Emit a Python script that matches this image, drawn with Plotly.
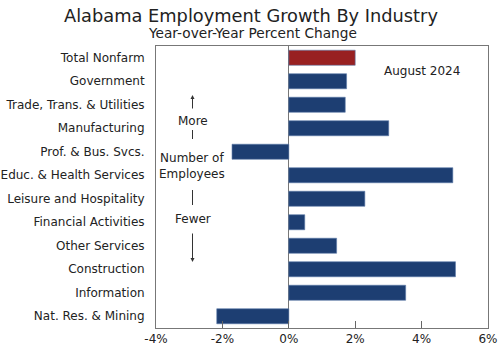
import plotly.graph_objects as go

categories = ["Total Nonfarm", "Government", "Trade, Trans. & Utilities", "Manufacturing",
              "Prof. & Bus. Svcs.", "Educ. & Health Services", "Leisure and Hospitality",
              "Financial Activities", "Other Services", "Construction", "Information",
              "Nat. Res. & Mining"]
values = [2.0, 1.74, 1.70, 3.01, -1.71, 4.94, 2.29, 0.48, 1.44, 5.02, 3.52, -2.17]
bar_colors = ["#982021"] + ["#1d3e72"] * 11
x_ticks = [-4, -2, 0, 2, 4, 6]
x_tick_labels = ["-4%", "-2%", "0%", "2%", "4%", "6%"]

FONT = "DejaVu Sans, Verdana, sans-serif"
W, H = 503, 348
L, R, T, B = 156, 15, 46, 20
pw, ph = W - L - R, H - T - B

def px(x):
    return (x - L) / pw

def py(y):
    return (H - B - y) / ph

fig = go.Figure(go.Bar(
    x=values, y=categories, orientation="h",
    marker=dict(color=bar_colors, line=dict(color="#5a78a8", width=0.6)),
    width=0.64,
))

fig.update_layout(
    width=W, height=H,
    margin=dict(l=L, r=R, t=T, b=B),
    paper_bgcolor="white", plot_bgcolor="white",
    showlegend=False,
    font=dict(family=FONT, size=12, color="#222"),
    xaxis=dict(range=[-4, 6], tickvals=x_ticks, ticktext=x_tick_labels,
               ticks="inside", ticklen=7, tickcolor="#666", showgrid=False,
               zeroline=True, zerolinecolor="#777", zerolinewidth=1,
               showline=True, linecolor="#777", linewidth=1, mirror=True,
               automargin=False,
               tickfont=dict(size=12, family=FONT, color="#222")),
    yaxis=dict(categoryorder="array", categoryarray=categories[::-1],
               range=[-0.5, len(categories) - 0.5], showgrid=False,
               showline=True, linecolor="#777", linewidth=1, mirror=True,
               ticks="", ticklabelstandoff=8, automargin=False,
               tickfont=dict(size=12, family=FONT, color="#222")),
)

ann = [
    dict(text="Alabama Employment Growth By Industry", x=px(251), y=py(16), size=17.8),
    dict(text="Year-over-Year Percent Change", x=px(252), y=py(33), size=13.7),
    dict(text="August 2024", x=px(422), y=py(71), size=12),
    dict(text="More", x=px(193), y=py(121), size=12),
    dict(text="Number of<br>Employees", x=px(192), y=py(166), size=12),
    dict(text="Fewer", x=px(193), y=py(219), size=12),
]
for a in ann:
    fig.add_annotation(text=a["text"], x=a["x"], y=a["y"], xref="paper", yref="paper",
                       showarrow=False, xanchor="center", yanchor="middle",
                       font=dict(size=a["size"], family=FONT, color="#222"))

# arrows
fig.add_annotation(x=px(192.5), y=py(95), xref="paper", yref="paper", text="",
                   showarrow=True, ax=0, ay=15, arrowhead=2, arrowsize=0.8,
                   arrowwidth=1, arrowcolor="#333")
fig.add_annotation(x=px(192.5), y=py(262), xref="paper", yref="paper", text="",
                   showarrow=True, ax=0, ay=-30, arrowhead=2, arrowsize=0.8,
                   arrowwidth=1, arrowcolor="#333")
for y0, y1 in [(130, 139), (190, 205)]:
    fig.add_shape(type="line", xref="paper", yref="paper",
                  x0=px(192.5), x1=px(192.5), y0=py(y0), y1=py(y1),
                  line=dict(color="#333", width=1))

fig.write_html("out.html")
